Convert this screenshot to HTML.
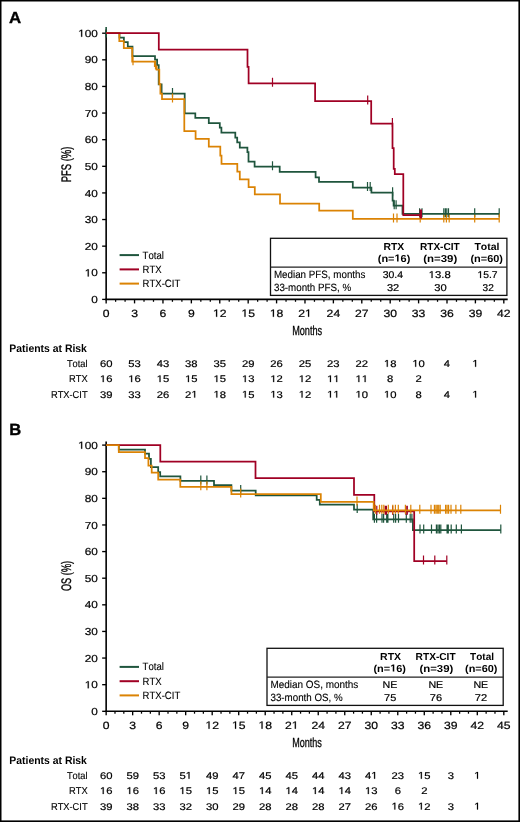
<!DOCTYPE html>
<html><head><meta charset="utf-8"><style>
html,body{margin:0;padding:0;background:#fff;}
body{width:520px;height:822px;overflow:hidden;}
svg{display:block;font-family:"Liberation Sans", sans-serif;font-kerning:none;text-rendering:geometricPrecision;will-change:transform;}
</style></head><body>
<svg width="520" height="822" viewBox="0 0 520 822">
<rect width="520" height="822" fill="#fff"/>
<rect x="0" y="0" width="520" height="1.5" fill="#000"/>
<rect x="0" y="0" width="1.5" height="822" fill="#000"/>
<rect x="518.4" y="0" width="1.6" height="822" fill="#000"/>
<rect x="0" y="820.4" width="520" height="1.6" fill="#000"/>
<text transform="translate(9.08 22.8) scale(1.0535 1)" font-size="15.99" font-weight="bold" stroke="#000" stroke-width="0.35">A</text>
<text transform="translate(9.29 434.9) scale(1.0173 1)" font-size="16.28" font-weight="bold" stroke="#000" stroke-width="0.35">B</text>
<line x1="106.15" y1="29.6" x2="106.15" y2="300.2" stroke="#000" stroke-width="1.6"/>
<line x1="105.35" y1="299.4" x2="507.71" y2="299.4" stroke="#000" stroke-width="1.6"/>
<line x1="102.15" y1="299.4" x2="106.15" y2="299.4" stroke="#000" stroke-width="1.35"/>
<text transform="translate(91.32 303) scale(1.1600 1)" font-size="10.2" stroke="#000" stroke-width="0.2">0</text>
<line x1="102.15" y1="272.78" x2="106.15" y2="272.78" stroke="#000" stroke-width="1.35"/>
<text transform="translate(84.74 276.38) scale(1.1600 1)" font-size="10.2" stroke="#000" stroke-width="0.2"> 0</text>
<path transform="translate(84.74 276.38) scale(0.00578 -0.00498)" d="M515 0V1237L197 1010V1180L530 1409H696V0Z" stroke="#000" stroke-width="40.2"/>
<line x1="102.15" y1="246.16" x2="106.15" y2="246.16" stroke="#000" stroke-width="1.35"/>
<text transform="translate(84.74 249.76) scale(1.1600 1)" font-size="10.2" stroke="#000" stroke-width="0.2">20</text>
<line x1="102.15" y1="219.54" x2="106.15" y2="219.54" stroke="#000" stroke-width="1.35"/>
<text transform="translate(84.74 223.14) scale(1.1600 1)" font-size="10.2" stroke="#000" stroke-width="0.2">30</text>
<line x1="102.15" y1="192.92" x2="106.15" y2="192.92" stroke="#000" stroke-width="1.35"/>
<text transform="translate(84.74 196.52) scale(1.1600 1)" font-size="10.2" stroke="#000" stroke-width="0.2">40</text>
<line x1="102.15" y1="166.3" x2="106.15" y2="166.3" stroke="#000" stroke-width="1.35"/>
<text transform="translate(84.74 169.9) scale(1.1600 1)" font-size="10.2" stroke="#000" stroke-width="0.2">50</text>
<line x1="102.15" y1="139.68" x2="106.15" y2="139.68" stroke="#000" stroke-width="1.35"/>
<text transform="translate(84.74 143.28) scale(1.1600 1)" font-size="10.2" stroke="#000" stroke-width="0.2">60</text>
<line x1="102.15" y1="113.06" x2="106.15" y2="113.06" stroke="#000" stroke-width="1.35"/>
<text transform="translate(84.74 116.66) scale(1.1600 1)" font-size="10.2" stroke="#000" stroke-width="0.2">70</text>
<line x1="102.15" y1="86.44" x2="106.15" y2="86.44" stroke="#000" stroke-width="1.35"/>
<text transform="translate(84.74 90.04) scale(1.1600 1)" font-size="10.2" stroke="#000" stroke-width="0.2">80</text>
<line x1="102.15" y1="59.82" x2="106.15" y2="59.82" stroke="#000" stroke-width="1.35"/>
<text transform="translate(84.74 63.42) scale(1.1600 1)" font-size="10.2" stroke="#000" stroke-width="0.2">90</text>
<line x1="102.15" y1="33.2" x2="106.15" y2="33.2" stroke="#000" stroke-width="1.35"/>
<text transform="translate(78.16 36.8) scale(1.1600 1)" font-size="10.2" stroke="#000" stroke-width="0.2"> 00</text>
<path transform="translate(78.16 36.8) scale(0.00578 -0.00498)" d="M515 0V1237L197 1010V1180L530 1409H696V0Z" stroke="#000" stroke-width="40.2"/>
<line x1="106.15" y1="299.4" x2="106.15" y2="303.4" stroke="#000" stroke-width="1.35"/>
<text transform="translate(102.76 316.8) scale(1.1600 1)" font-size="10.5" stroke="#000" stroke-width="0.2">0</text>
<line x1="115.62" y1="299.4" x2="115.62" y2="301.8" stroke="#000" stroke-width="1.25"/>
<line x1="125.09" y1="299.4" x2="125.09" y2="301.8" stroke="#000" stroke-width="1.25"/>
<line x1="134.55" y1="299.4" x2="134.55" y2="303.4" stroke="#000" stroke-width="1.35"/>
<text transform="translate(131.17 316.8) scale(1.1600 1)" font-size="10.5" stroke="#000" stroke-width="0.2">3</text>
<line x1="144.02" y1="299.4" x2="144.02" y2="301.8" stroke="#000" stroke-width="1.25"/>
<line x1="153.49" y1="299.4" x2="153.49" y2="301.8" stroke="#000" stroke-width="1.25"/>
<line x1="162.96" y1="299.4" x2="162.96" y2="303.4" stroke="#000" stroke-width="1.35"/>
<text transform="translate(159.57 316.8) scale(1.1600 1)" font-size="10.5" stroke="#000" stroke-width="0.2">6</text>
<line x1="172.43" y1="299.4" x2="172.43" y2="301.8" stroke="#000" stroke-width="1.25"/>
<line x1="181.89" y1="299.4" x2="181.89" y2="301.8" stroke="#000" stroke-width="1.25"/>
<line x1="191.36" y1="299.4" x2="191.36" y2="303.4" stroke="#000" stroke-width="1.35"/>
<text transform="translate(187.98 316.8) scale(1.1600 1)" font-size="10.5" stroke="#000" stroke-width="0.2">9</text>
<line x1="200.83" y1="299.4" x2="200.83" y2="301.8" stroke="#000" stroke-width="1.25"/>
<line x1="210.3" y1="299.4" x2="210.3" y2="301.8" stroke="#000" stroke-width="1.25"/>
<line x1="219.77" y1="299.4" x2="219.77" y2="303.4" stroke="#000" stroke-width="1.35"/>
<text transform="translate(212.99 316.8) scale(1.1600 1)" font-size="10.5" stroke="#000" stroke-width="0.2"> 2</text>
<path transform="translate(212.99 316.8) scale(0.00595 -0.00513)" d="M515 0V1237L197 1010V1180L530 1409H696V0Z" stroke="#000" stroke-width="39.0"/>
<line x1="229.23" y1="299.4" x2="229.23" y2="301.8" stroke="#000" stroke-width="1.25"/>
<line x1="238.7" y1="299.4" x2="238.7" y2="301.8" stroke="#000" stroke-width="1.25"/>
<line x1="248.17" y1="299.4" x2="248.17" y2="303.4" stroke="#000" stroke-width="1.35"/>
<text transform="translate(241.4 316.8) scale(1.1600 1)" font-size="10.5" stroke="#000" stroke-width="0.2"> 5</text>
<path transform="translate(241.4 316.8) scale(0.00595 -0.00513)" d="M515 0V1237L197 1010V1180L530 1409H696V0Z" stroke="#000" stroke-width="39.0"/>
<line x1="257.64" y1="299.4" x2="257.64" y2="301.8" stroke="#000" stroke-width="1.25"/>
<line x1="267.11" y1="299.4" x2="267.11" y2="301.8" stroke="#000" stroke-width="1.25"/>
<line x1="276.57" y1="299.4" x2="276.57" y2="303.4" stroke="#000" stroke-width="1.35"/>
<text transform="translate(269.8 316.8) scale(1.1600 1)" font-size="10.5" stroke="#000" stroke-width="0.2"> 8</text>
<path transform="translate(269.8 316.8) scale(0.00595 -0.00513)" d="M515 0V1237L197 1010V1180L530 1409H696V0Z" stroke="#000" stroke-width="39.0"/>
<line x1="286.04" y1="299.4" x2="286.04" y2="301.8" stroke="#000" stroke-width="1.25"/>
<line x1="295.51" y1="299.4" x2="295.51" y2="301.8" stroke="#000" stroke-width="1.25"/>
<line x1="304.98" y1="299.4" x2="304.98" y2="303.4" stroke="#000" stroke-width="1.35"/>
<text transform="translate(298.2 316.8) scale(1.1600 1)" font-size="10.5" stroke="#000" stroke-width="0.2">2 </text>
<path transform="translate(304.98 316.8) scale(0.00595 -0.00513)" d="M515 0V1237L197 1010V1180L530 1409H696V0Z" stroke="#000" stroke-width="39.0"/>
<line x1="314.45" y1="299.4" x2="314.45" y2="301.8" stroke="#000" stroke-width="1.25"/>
<line x1="323.91" y1="299.4" x2="323.91" y2="301.8" stroke="#000" stroke-width="1.25"/>
<line x1="333.38" y1="299.4" x2="333.38" y2="303.4" stroke="#000" stroke-width="1.35"/>
<text transform="translate(326.61 316.8) scale(1.1600 1)" font-size="10.5" stroke="#000" stroke-width="0.2">24</text>
<line x1="342.85" y1="299.4" x2="342.85" y2="301.8" stroke="#000" stroke-width="1.25"/>
<line x1="352.32" y1="299.4" x2="352.32" y2="301.8" stroke="#000" stroke-width="1.25"/>
<line x1="361.79" y1="299.4" x2="361.79" y2="303.4" stroke="#000" stroke-width="1.35"/>
<text transform="translate(355.01 316.8) scale(1.1600 1)" font-size="10.5" stroke="#000" stroke-width="0.2">27</text>
<line x1="371.25" y1="299.4" x2="371.25" y2="301.8" stroke="#000" stroke-width="1.25"/>
<line x1="380.72" y1="299.4" x2="380.72" y2="301.8" stroke="#000" stroke-width="1.25"/>
<line x1="390.19" y1="299.4" x2="390.19" y2="303.4" stroke="#000" stroke-width="1.35"/>
<text transform="translate(383.42 316.8) scale(1.1600 1)" font-size="10.5" stroke="#000" stroke-width="0.2">30</text>
<line x1="399.66" y1="299.4" x2="399.66" y2="301.8" stroke="#000" stroke-width="1.25"/>
<line x1="409.13" y1="299.4" x2="409.13" y2="301.8" stroke="#000" stroke-width="1.25"/>
<line x1="418.59" y1="299.4" x2="418.59" y2="303.4" stroke="#000" stroke-width="1.35"/>
<text transform="translate(411.82 316.8) scale(1.1600 1)" font-size="10.5" stroke="#000" stroke-width="0.2">33</text>
<line x1="428.06" y1="299.4" x2="428.06" y2="301.8" stroke="#000" stroke-width="1.25"/>
<line x1="437.53" y1="299.4" x2="437.53" y2="301.8" stroke="#000" stroke-width="1.25"/>
<line x1="447" y1="299.4" x2="447" y2="303.4" stroke="#000" stroke-width="1.35"/>
<text transform="translate(440.22 316.8) scale(1.1600 1)" font-size="10.5" stroke="#000" stroke-width="0.2">36</text>
<line x1="456.47" y1="299.4" x2="456.47" y2="301.8" stroke="#000" stroke-width="1.25"/>
<line x1="465.93" y1="299.4" x2="465.93" y2="301.8" stroke="#000" stroke-width="1.25"/>
<line x1="475.4" y1="299.4" x2="475.4" y2="303.4" stroke="#000" stroke-width="1.35"/>
<text transform="translate(468.63 316.8) scale(1.1600 1)" font-size="10.5" stroke="#000" stroke-width="0.2">39</text>
<line x1="484.87" y1="299.4" x2="484.87" y2="301.8" stroke="#000" stroke-width="1.25"/>
<line x1="494.34" y1="299.4" x2="494.34" y2="301.8" stroke="#000" stroke-width="1.25"/>
<line x1="503.81" y1="299.4" x2="503.81" y2="303.4" stroke="#000" stroke-width="1.35"/>
<text transform="translate(497.03 316.8) scale(1.1600 1)" font-size="10.5" stroke="#000" stroke-width="0.2">42</text>
<text transform="translate(70.9 182.17) rotate(-90) scale(0.6796 1)" font-size="13.81" stroke="#000" stroke-width="0.35">PFS (%)</text>
<text transform="translate(292.15 334.7) scale(0.6912 1)" font-size="13.23" stroke="#000" stroke-width="0.3">Months</text>
<path d="M419.6 208.3V217.3M422 208.3V217.3M443.8 208.3V217.3M445.4 208.3V217.3M446.8 208.3V217.3M448.5 208.3V217.3M474.7 208.3V217.3M499.2 208.3V217.3" stroke="#1f553d" stroke-width="1.2"/>
<path d="M420.2 213.4V222.4M443.8 213.4V222.4M446.4 213.4V222.4M449.2 213.4V222.4M474.7 213.4V222.4M499.2 213.4V222.4" stroke="#db8304" stroke-width="1.2"/>
<path d="M106.15 33.2H119.5V37.7H123.9V42.2H127.8V46.5H132.5V56.1H155V59.5H157.1V65H158.7V84.3H161.6V93.6H184.7V113.3H195.3V117.9H208.8V123H219.8V127.7H221.4V132.7H235.3V137.6H237.2V142.3H239.8V147.5H247.4V152.1H248.5V161.7H254.6V166.7H279.7V171.8H315.6V177.3H319V181.9H352.8V187.5H371.4V192.7H392.6V200.5H393.6V205.7H402.5V213.8H499.2" fill="none" stroke="#1f553d" stroke-width="1.75"/>
<path d="M172.5 88.1V97.1M272.5 161.2V170.2M367.5 182V191M370.2 182V191M392.6 187.2V196.2M394.2 200.2V209.2M396.1 200.2V209.2" stroke="#1f553d" stroke-width="1.2"/>
<line x1="106.15" y1="27" x2="106.15" y2="37.5" stroke="#1f553d" stroke-width="1.6"/>
<path d="M106.15 33.2H119.3V41.1H123.8V48H132.2V61.7H154.8V66H156.6V69.5H159.3V84H160.4V93.5H162V99H184.3V131.2H195.6V138.9H208.8V146.7H220.3V155.6H221.5V163.8H237.3V171.7H239.8V179.4H248.6V187.2H254.8V194.4H280V203.6H319.2V210.7H352.8V218.9H499.2" fill="none" stroke="#db8304" stroke-width="1.75"/>
<path d="M133 56.2V65.2M155.5 60.5V69.5M172.5 93.5V102.5M393.5 213.4V222.4M397 213.4V222.4" stroke="#db8304" stroke-width="1.2"/>
<path d="M106.15 33.2H158.8V49.7H247.5V66.8H248.6V83.3H315.1V101.1H371.2V123.5H392.5V148.2H393.7V168.9H394.8V174H403.3V215H422" fill="none" stroke="#a00024" stroke-width="1.75"/>
<path d="M272.5 77.8V86.8M367.7 95.6V104.6M392.4 118V127M420.2 209.5V218.5M421.4 209.5V218.5" stroke="#a00024" stroke-width="1.2"/>
<line x1="119.6" y1="255.1" x2="139" y2="255.1" stroke="#1f553d" stroke-width="2.0"/>
<line x1="119.6" y1="269.4" x2="139" y2="269.4" stroke="#a00024" stroke-width="2.0"/>
<line x1="119.6" y1="283.6" x2="139" y2="283.6" stroke="#db8304" stroke-width="2.0"/>
<text transform="translate(142.6 258.6) scale(0.9000 1)" font-size="10.6" stroke="#000" stroke-width="0.12">Total</text>
<text transform="translate(142.6 272.9) scale(0.9000 1)" font-size="10.6" stroke="#000" stroke-width="0.12">RTX</text>
<text transform="translate(142.6 287.1) scale(0.9000 1)" font-size="10.6" stroke="#000" stroke-width="0.12">RTX-CIT</text>
<rect x="270.5" y="238.3" width="236.4" height="57.1" fill="none" stroke="#111" stroke-width="1.3"/>
<line x1="270.5" y1="267.1" x2="506.9" y2="267.1" stroke="#222" stroke-width="1.2"/>
<text transform="translate(383.4 249.5) scale(1.0215 1)" font-size="10.17" font-weight="bold">RTX</text>
<text transform="translate(377.75 261.5) scale(1.0774 1)" font-size="10.17" font-weight="bold">(n= 6)</text>
<path transform="translate(394.5 261.5) scale(0.00535 -0.00497)" d="M478 0V1170L140 959V1180L493 1409H759V0Z"/>
<text transform="translate(419.92 249.5) scale(0.9940 1)" font-size="10.17" font-weight="bold">RTX-CIT</text>
<text transform="translate(423.23 261.5) scale(1.1253 1)" font-size="10.17" font-weight="bold">(n=39)</text>
<text transform="translate(474.38 249.5) scale(1.0312 1)" font-size="10.17" font-weight="bold">Total</text>
<text transform="translate(470.45 261.5) scale(1.0774 1)" font-size="10.17" font-weight="bold">(n=60)</text>
<text transform="translate(382.7 278) scale(1.0637 1)" font-size="9.86" stroke="#000" stroke-width="0.2">30.4</text>
<text transform="translate(428.71 278) scale(1.1455 1)" font-size="9.86" stroke="#000" stroke-width="0.2"> 3.8</text>
<path transform="translate(428.71 278) scale(0.00551 -0.00481)" d="M515 0V1237L197 1010V1180L530 1409H696V0Z" stroke="#000" stroke-width="41.6"/>
<text transform="translate(477.51 278) scale(1.0484 1)" font-size="9.86" stroke="#000" stroke-width="0.2"> 5.7</text>
<path transform="translate(477.51 278) scale(0.00505 -0.00481)" d="M515 0V1237L197 1010V1180L530 1409H696V0Z" stroke="#000" stroke-width="41.6"/>
<text transform="translate(386.98 290.9) scale(1.1196 1)" font-size="9.86" stroke="#000" stroke-width="0.2">32</text>
<text transform="translate(434.17 290.9) scale(1.1368 1)" font-size="9.86" stroke="#000" stroke-width="0.2">30</text>
<text transform="translate(482.62 290.9) scale(1.0205 1)" font-size="9.86" stroke="#000" stroke-width="0.2">32</text>
<text transform="translate(273.9 278.1) scale(0.9241 1)" font-size="10.61" stroke="#000" stroke-width="0.12">Median PFS, months</text>
<text transform="translate(274 291.2) scale(0.9300 1)" font-size="10.5" stroke="#000" stroke-width="0.12">33-month PFS, %</text>
<text transform="translate(9.3 351.8) scale(0.9570 1)" font-size="10.9" font-weight="bold">Patients at Risk</text>
<text transform="translate(66.92 366.8) scale(0.9300 1)" font-size="10" stroke="#000" stroke-width="0.12">Total</text>
<text transform="translate(99.89 366.8) scale(1.1600 1)" font-size="9.7" stroke="#000" stroke-width="0.2">60</text>
<text transform="translate(128.3 366.8) scale(1.1600 1)" font-size="9.7" stroke="#000" stroke-width="0.2">53</text>
<text transform="translate(156.7 366.8) scale(1.1600 1)" font-size="9.7" stroke="#000" stroke-width="0.2">43</text>
<text transform="translate(185.1 366.8) scale(1.1600 1)" font-size="9.7" stroke="#000" stroke-width="0.2">38</text>
<text transform="translate(213.51 366.8) scale(1.1600 1)" font-size="9.7" stroke="#000" stroke-width="0.2">35</text>
<text transform="translate(241.91 366.8) scale(1.1600 1)" font-size="9.7" stroke="#000" stroke-width="0.2">29</text>
<text transform="translate(270.32 366.8) scale(1.1600 1)" font-size="9.7" stroke="#000" stroke-width="0.2">26</text>
<text transform="translate(298.72 366.8) scale(1.1600 1)" font-size="9.7" stroke="#000" stroke-width="0.2">25</text>
<text transform="translate(327.12 366.8) scale(1.1600 1)" font-size="9.7" stroke="#000" stroke-width="0.2">23</text>
<text transform="translate(355.53 366.8) scale(1.1600 1)" font-size="9.7" stroke="#000" stroke-width="0.2">22</text>
<text transform="translate(383.93 366.8) scale(1.1600 1)" font-size="9.7" stroke="#000" stroke-width="0.2"> 8</text>
<path transform="translate(383.93 366.8) scale(0.00549 -0.00474)" d="M515 0V1237L197 1010V1180L530 1409H696V0Z" stroke="#000" stroke-width="42.2"/>
<text transform="translate(412.34 366.8) scale(1.1600 1)" font-size="9.7" stroke="#000" stroke-width="0.2"> 0</text>
<path transform="translate(412.34 366.8) scale(0.00549 -0.00474)" d="M515 0V1237L197 1010V1180L530 1409H696V0Z" stroke="#000" stroke-width="42.2"/>
<text transform="translate(443.87 366.8) scale(1.1600 1)" font-size="9.7" stroke="#000" stroke-width="0.2">4</text>
<text transform="translate(472.27 366.8) scale(1.1600 1)" font-size="9.7" stroke="#000" stroke-width="0.2"> </text>
<path transform="translate(472.27 366.8) scale(0.00549 -0.00474)" d="M515 0V1237L197 1010V1180L530 1409H696V0Z" stroke="#000" stroke-width="42.2"/>
<text transform="translate(69 382.1) scale(0.9300 1)" font-size="10" stroke="#000" stroke-width="0.12">RTX</text>
<text transform="translate(99.89 382.1) scale(1.1600 1)" font-size="9.7" stroke="#000" stroke-width="0.2"> 6</text>
<path transform="translate(99.89 382.1) scale(0.00549 -0.00474)" d="M515 0V1237L197 1010V1180L530 1409H696V0Z" stroke="#000" stroke-width="42.2"/>
<text transform="translate(128.3 382.1) scale(1.1600 1)" font-size="9.7" stroke="#000" stroke-width="0.2"> 6</text>
<path transform="translate(128.3 382.1) scale(0.00549 -0.00474)" d="M515 0V1237L197 1010V1180L530 1409H696V0Z" stroke="#000" stroke-width="42.2"/>
<text transform="translate(156.7 382.1) scale(1.1600 1)" font-size="9.7" stroke="#000" stroke-width="0.2"> 5</text>
<path transform="translate(156.7 382.1) scale(0.00549 -0.00474)" d="M515 0V1237L197 1010V1180L530 1409H696V0Z" stroke="#000" stroke-width="42.2"/>
<text transform="translate(185.1 382.1) scale(1.1600 1)" font-size="9.7" stroke="#000" stroke-width="0.2"> 5</text>
<path transform="translate(185.1 382.1) scale(0.00549 -0.00474)" d="M515 0V1237L197 1010V1180L530 1409H696V0Z" stroke="#000" stroke-width="42.2"/>
<text transform="translate(213.51 382.1) scale(1.1600 1)" font-size="9.7" stroke="#000" stroke-width="0.2"> 5</text>
<path transform="translate(213.51 382.1) scale(0.00549 -0.00474)" d="M515 0V1237L197 1010V1180L530 1409H696V0Z" stroke="#000" stroke-width="42.2"/>
<text transform="translate(241.91 382.1) scale(1.1600 1)" font-size="9.7" stroke="#000" stroke-width="0.2"> 3</text>
<path transform="translate(241.91 382.1) scale(0.00549 -0.00474)" d="M515 0V1237L197 1010V1180L530 1409H696V0Z" stroke="#000" stroke-width="42.2"/>
<text transform="translate(270.32 382.1) scale(1.1600 1)" font-size="9.7" stroke="#000" stroke-width="0.2"> 2</text>
<path transform="translate(270.32 382.1) scale(0.00549 -0.00474)" d="M515 0V1237L197 1010V1180L530 1409H696V0Z" stroke="#000" stroke-width="42.2"/>
<text transform="translate(298.72 382.1) scale(1.1600 1)" font-size="9.7" stroke="#000" stroke-width="0.2"> 2</text>
<path transform="translate(298.72 382.1) scale(0.00549 -0.00474)" d="M515 0V1237L197 1010V1180L530 1409H696V0Z" stroke="#000" stroke-width="42.2"/>
<text transform="translate(327.12 382.1) scale(1.1600 1)" font-size="9.7" stroke="#000" stroke-width="0.2">  </text>
<path transform="translate(327.12 382.1) scale(0.00549 -0.00474)" d="M515 0V1237L197 1010V1180L530 1409H696V0Z" stroke="#000" stroke-width="42.2"/>
<path transform="translate(333.38 382.1) scale(0.00549 -0.00474)" d="M515 0V1237L197 1010V1180L530 1409H696V0Z" stroke="#000" stroke-width="42.2"/>
<text transform="translate(355.53 382.1) scale(1.1600 1)" font-size="9.7" stroke="#000" stroke-width="0.2">  </text>
<path transform="translate(355.53 382.1) scale(0.00549 -0.00474)" d="M515 0V1237L197 1010V1180L530 1409H696V0Z" stroke="#000" stroke-width="42.2"/>
<path transform="translate(361.79 382.1) scale(0.00549 -0.00474)" d="M515 0V1237L197 1010V1180L530 1409H696V0Z" stroke="#000" stroke-width="42.2"/>
<text transform="translate(387.06 382.1) scale(1.1600 1)" font-size="9.7" stroke="#000" stroke-width="0.2">8</text>
<text transform="translate(415.47 382.1) scale(1.1600 1)" font-size="9.7" stroke="#000" stroke-width="0.2">2</text>
<text transform="translate(50.92 397.6) scale(0.9300 1)" font-size="10" stroke="#000" stroke-width="0.12">RTX-CIT</text>
<text transform="translate(99.89 397.6) scale(1.1600 1)" font-size="9.7" stroke="#000" stroke-width="0.2">39</text>
<text transform="translate(128.3 397.6) scale(1.1600 1)" font-size="9.7" stroke="#000" stroke-width="0.2">33</text>
<text transform="translate(156.7 397.6) scale(1.1600 1)" font-size="9.7" stroke="#000" stroke-width="0.2">26</text>
<text transform="translate(185.1 397.6) scale(1.1600 1)" font-size="9.7" stroke="#000" stroke-width="0.2">2 </text>
<path transform="translate(191.36 397.6) scale(0.00549 -0.00474)" d="M515 0V1237L197 1010V1180L530 1409H696V0Z" stroke="#000" stroke-width="42.2"/>
<text transform="translate(213.51 397.6) scale(1.1600 1)" font-size="9.7" stroke="#000" stroke-width="0.2"> 8</text>
<path transform="translate(213.51 397.6) scale(0.00549 -0.00474)" d="M515 0V1237L197 1010V1180L530 1409H696V0Z" stroke="#000" stroke-width="42.2"/>
<text transform="translate(241.91 397.6) scale(1.1600 1)" font-size="9.7" stroke="#000" stroke-width="0.2"> 5</text>
<path transform="translate(241.91 397.6) scale(0.00549 -0.00474)" d="M515 0V1237L197 1010V1180L530 1409H696V0Z" stroke="#000" stroke-width="42.2"/>
<text transform="translate(270.32 397.6) scale(1.1600 1)" font-size="9.7" stroke="#000" stroke-width="0.2"> 3</text>
<path transform="translate(270.32 397.6) scale(0.00549 -0.00474)" d="M515 0V1237L197 1010V1180L530 1409H696V0Z" stroke="#000" stroke-width="42.2"/>
<text transform="translate(298.72 397.6) scale(1.1600 1)" font-size="9.7" stroke="#000" stroke-width="0.2"> 2</text>
<path transform="translate(298.72 397.6) scale(0.00549 -0.00474)" d="M515 0V1237L197 1010V1180L530 1409H696V0Z" stroke="#000" stroke-width="42.2"/>
<text transform="translate(327.12 397.6) scale(1.1600 1)" font-size="9.7" stroke="#000" stroke-width="0.2">  </text>
<path transform="translate(327.12 397.6) scale(0.00549 -0.00474)" d="M515 0V1237L197 1010V1180L530 1409H696V0Z" stroke="#000" stroke-width="42.2"/>
<path transform="translate(333.38 397.6) scale(0.00549 -0.00474)" d="M515 0V1237L197 1010V1180L530 1409H696V0Z" stroke="#000" stroke-width="42.2"/>
<text transform="translate(355.53 397.6) scale(1.1600 1)" font-size="9.7" stroke="#000" stroke-width="0.2"> 0</text>
<path transform="translate(355.53 397.6) scale(0.00549 -0.00474)" d="M515 0V1237L197 1010V1180L530 1409H696V0Z" stroke="#000" stroke-width="42.2"/>
<text transform="translate(383.93 397.6) scale(1.1600 1)" font-size="9.7" stroke="#000" stroke-width="0.2"> 0</text>
<path transform="translate(383.93 397.6) scale(0.00549 -0.00474)" d="M515 0V1237L197 1010V1180L530 1409H696V0Z" stroke="#000" stroke-width="42.2"/>
<text transform="translate(415.47 397.6) scale(1.1600 1)" font-size="9.7" stroke="#000" stroke-width="0.2">8</text>
<text transform="translate(443.87 397.6) scale(1.1600 1)" font-size="9.7" stroke="#000" stroke-width="0.2">4</text>
<text transform="translate(472.27 397.6) scale(1.1600 1)" font-size="9.7" stroke="#000" stroke-width="0.2"> </text>
<path transform="translate(472.27 397.6) scale(0.00549 -0.00474)" d="M515 0V1237L197 1010V1180L530 1409H696V0Z" stroke="#000" stroke-width="42.2"/>
<line x1="106.15" y1="441.5" x2="106.15" y2="712.1" stroke="#000" stroke-width="1.6"/>
<line x1="105.35" y1="711.3" x2="507.71" y2="711.3" stroke="#000" stroke-width="1.6"/>
<line x1="102.15" y1="711.3" x2="106.15" y2="711.3" stroke="#000" stroke-width="1.35"/>
<text transform="translate(91.32 714.9) scale(1.1600 1)" font-size="10.2" stroke="#000" stroke-width="0.2">0</text>
<line x1="102.15" y1="684.68" x2="106.15" y2="684.68" stroke="#000" stroke-width="1.35"/>
<text transform="translate(84.74 688.28) scale(1.1600 1)" font-size="10.2" stroke="#000" stroke-width="0.2"> 0</text>
<path transform="translate(84.74 688.28) scale(0.00578 -0.00498)" d="M515 0V1237L197 1010V1180L530 1409H696V0Z" stroke="#000" stroke-width="40.2"/>
<line x1="102.15" y1="658.06" x2="106.15" y2="658.06" stroke="#000" stroke-width="1.35"/>
<text transform="translate(84.74 661.66) scale(1.1600 1)" font-size="10.2" stroke="#000" stroke-width="0.2">20</text>
<line x1="102.15" y1="631.44" x2="106.15" y2="631.44" stroke="#000" stroke-width="1.35"/>
<text transform="translate(84.74 635.04) scale(1.1600 1)" font-size="10.2" stroke="#000" stroke-width="0.2">30</text>
<line x1="102.15" y1="604.82" x2="106.15" y2="604.82" stroke="#000" stroke-width="1.35"/>
<text transform="translate(84.74 608.42) scale(1.1600 1)" font-size="10.2" stroke="#000" stroke-width="0.2">40</text>
<line x1="102.15" y1="578.2" x2="106.15" y2="578.2" stroke="#000" stroke-width="1.35"/>
<text transform="translate(84.74 581.8) scale(1.1600 1)" font-size="10.2" stroke="#000" stroke-width="0.2">50</text>
<line x1="102.15" y1="551.58" x2="106.15" y2="551.58" stroke="#000" stroke-width="1.35"/>
<text transform="translate(84.74 555.18) scale(1.1600 1)" font-size="10.2" stroke="#000" stroke-width="0.2">60</text>
<line x1="102.15" y1="524.96" x2="106.15" y2="524.96" stroke="#000" stroke-width="1.35"/>
<text transform="translate(84.74 528.56) scale(1.1600 1)" font-size="10.2" stroke="#000" stroke-width="0.2">70</text>
<line x1="102.15" y1="498.34" x2="106.15" y2="498.34" stroke="#000" stroke-width="1.35"/>
<text transform="translate(84.74 501.94) scale(1.1600 1)" font-size="10.2" stroke="#000" stroke-width="0.2">80</text>
<line x1="102.15" y1="471.72" x2="106.15" y2="471.72" stroke="#000" stroke-width="1.35"/>
<text transform="translate(84.74 475.32) scale(1.1600 1)" font-size="10.2" stroke="#000" stroke-width="0.2">90</text>
<line x1="102.15" y1="445.1" x2="106.15" y2="445.1" stroke="#000" stroke-width="1.35"/>
<text transform="translate(78.16 448.7) scale(1.1600 1)" font-size="10.2" stroke="#000" stroke-width="0.2"> 00</text>
<path transform="translate(78.16 448.7) scale(0.00578 -0.00498)" d="M515 0V1237L197 1010V1180L530 1409H696V0Z" stroke="#000" stroke-width="40.2"/>
<line x1="106.15" y1="711.3" x2="106.15" y2="715.3" stroke="#000" stroke-width="1.35"/>
<text transform="translate(102.76 728.7) scale(1.1600 1)" font-size="10.5" stroke="#000" stroke-width="0.2">0</text>
<line x1="114.99" y1="711.3" x2="114.99" y2="713.7" stroke="#000" stroke-width="1.25"/>
<line x1="123.82" y1="711.3" x2="123.82" y2="713.7" stroke="#000" stroke-width="1.25"/>
<line x1="132.66" y1="711.3" x2="132.66" y2="715.3" stroke="#000" stroke-width="1.35"/>
<text transform="translate(129.27 728.7) scale(1.1600 1)" font-size="10.5" stroke="#000" stroke-width="0.2">3</text>
<line x1="141.5" y1="711.3" x2="141.5" y2="713.7" stroke="#000" stroke-width="1.25"/>
<line x1="150.34" y1="711.3" x2="150.34" y2="713.7" stroke="#000" stroke-width="1.25"/>
<line x1="159.17" y1="711.3" x2="159.17" y2="715.3" stroke="#000" stroke-width="1.35"/>
<text transform="translate(155.79 728.7) scale(1.1600 1)" font-size="10.5" stroke="#000" stroke-width="0.2">6</text>
<line x1="168.01" y1="711.3" x2="168.01" y2="713.7" stroke="#000" stroke-width="1.25"/>
<line x1="176.85" y1="711.3" x2="176.85" y2="713.7" stroke="#000" stroke-width="1.25"/>
<line x1="185.68" y1="711.3" x2="185.68" y2="715.3" stroke="#000" stroke-width="1.35"/>
<text transform="translate(182.3 728.7) scale(1.1600 1)" font-size="10.5" stroke="#000" stroke-width="0.2">9</text>
<line x1="194.52" y1="711.3" x2="194.52" y2="713.7" stroke="#000" stroke-width="1.25"/>
<line x1="203.36" y1="711.3" x2="203.36" y2="713.7" stroke="#000" stroke-width="1.25"/>
<line x1="212.19" y1="711.3" x2="212.19" y2="715.3" stroke="#000" stroke-width="1.35"/>
<text transform="translate(205.42 728.7) scale(1.1600 1)" font-size="10.5" stroke="#000" stroke-width="0.2"> 2</text>
<path transform="translate(205.42 728.7) scale(0.00595 -0.00513)" d="M515 0V1237L197 1010V1180L530 1409H696V0Z" stroke="#000" stroke-width="39.0"/>
<line x1="221.03" y1="711.3" x2="221.03" y2="713.7" stroke="#000" stroke-width="1.25"/>
<line x1="229.87" y1="711.3" x2="229.87" y2="713.7" stroke="#000" stroke-width="1.25"/>
<line x1="238.71" y1="711.3" x2="238.71" y2="715.3" stroke="#000" stroke-width="1.35"/>
<text transform="translate(231.93 728.7) scale(1.1600 1)" font-size="10.5" stroke="#000" stroke-width="0.2"> 5</text>
<path transform="translate(231.93 728.7) scale(0.00595 -0.00513)" d="M515 0V1237L197 1010V1180L530 1409H696V0Z" stroke="#000" stroke-width="39.0"/>
<line x1="247.54" y1="711.3" x2="247.54" y2="713.7" stroke="#000" stroke-width="1.25"/>
<line x1="256.38" y1="711.3" x2="256.38" y2="713.7" stroke="#000" stroke-width="1.25"/>
<line x1="265.22" y1="711.3" x2="265.22" y2="715.3" stroke="#000" stroke-width="1.35"/>
<text transform="translate(258.44 728.7) scale(1.1600 1)" font-size="10.5" stroke="#000" stroke-width="0.2"> 8</text>
<path transform="translate(258.44 728.7) scale(0.00595 -0.00513)" d="M515 0V1237L197 1010V1180L530 1409H696V0Z" stroke="#000" stroke-width="39.0"/>
<line x1="274.05" y1="711.3" x2="274.05" y2="713.7" stroke="#000" stroke-width="1.25"/>
<line x1="282.89" y1="711.3" x2="282.89" y2="713.7" stroke="#000" stroke-width="1.25"/>
<line x1="291.73" y1="711.3" x2="291.73" y2="715.3" stroke="#000" stroke-width="1.35"/>
<text transform="translate(284.95 728.7) scale(1.1600 1)" font-size="10.5" stroke="#000" stroke-width="0.2">2 </text>
<path transform="translate(291.73 728.7) scale(0.00595 -0.00513)" d="M515 0V1237L197 1010V1180L530 1409H696V0Z" stroke="#000" stroke-width="39.0"/>
<line x1="300.56" y1="711.3" x2="300.56" y2="713.7" stroke="#000" stroke-width="1.25"/>
<line x1="309.4" y1="711.3" x2="309.4" y2="713.7" stroke="#000" stroke-width="1.25"/>
<line x1="318.24" y1="711.3" x2="318.24" y2="715.3" stroke="#000" stroke-width="1.35"/>
<text transform="translate(311.46 728.7) scale(1.1600 1)" font-size="10.5" stroke="#000" stroke-width="0.2">24</text>
<line x1="327.07" y1="711.3" x2="327.07" y2="713.7" stroke="#000" stroke-width="1.25"/>
<line x1="335.91" y1="711.3" x2="335.91" y2="713.7" stroke="#000" stroke-width="1.25"/>
<line x1="344.75" y1="711.3" x2="344.75" y2="715.3" stroke="#000" stroke-width="1.35"/>
<text transform="translate(337.98 728.7) scale(1.1600 1)" font-size="10.5" stroke="#000" stroke-width="0.2">27</text>
<line x1="353.59" y1="711.3" x2="353.59" y2="713.7" stroke="#000" stroke-width="1.25"/>
<line x1="362.42" y1="711.3" x2="362.42" y2="713.7" stroke="#000" stroke-width="1.25"/>
<line x1="371.26" y1="711.3" x2="371.26" y2="715.3" stroke="#000" stroke-width="1.35"/>
<text transform="translate(364.49 728.7) scale(1.1600 1)" font-size="10.5" stroke="#000" stroke-width="0.2">30</text>
<line x1="380.1" y1="711.3" x2="380.1" y2="713.7" stroke="#000" stroke-width="1.25"/>
<line x1="388.93" y1="711.3" x2="388.93" y2="713.7" stroke="#000" stroke-width="1.25"/>
<line x1="397.77" y1="711.3" x2="397.77" y2="715.3" stroke="#000" stroke-width="1.35"/>
<text transform="translate(391 728.7) scale(1.1600 1)" font-size="10.5" stroke="#000" stroke-width="0.2">33</text>
<line x1="406.61" y1="711.3" x2="406.61" y2="713.7" stroke="#000" stroke-width="1.25"/>
<line x1="415.45" y1="711.3" x2="415.45" y2="713.7" stroke="#000" stroke-width="1.25"/>
<line x1="424.28" y1="711.3" x2="424.28" y2="715.3" stroke="#000" stroke-width="1.35"/>
<text transform="translate(417.51 728.7) scale(1.1600 1)" font-size="10.5" stroke="#000" stroke-width="0.2">36</text>
<line x1="433.12" y1="711.3" x2="433.12" y2="713.7" stroke="#000" stroke-width="1.25"/>
<line x1="441.96" y1="711.3" x2="441.96" y2="713.7" stroke="#000" stroke-width="1.25"/>
<line x1="450.79" y1="711.3" x2="450.79" y2="715.3" stroke="#000" stroke-width="1.35"/>
<text transform="translate(444.02 728.7) scale(1.1600 1)" font-size="10.5" stroke="#000" stroke-width="0.2">39</text>
<line x1="459.63" y1="711.3" x2="459.63" y2="713.7" stroke="#000" stroke-width="1.25"/>
<line x1="468.47" y1="711.3" x2="468.47" y2="713.7" stroke="#000" stroke-width="1.25"/>
<line x1="477.3" y1="711.3" x2="477.3" y2="715.3" stroke="#000" stroke-width="1.35"/>
<text transform="translate(470.53 728.7) scale(1.1600 1)" font-size="10.5" stroke="#000" stroke-width="0.2">42</text>
<line x1="486.14" y1="711.3" x2="486.14" y2="713.7" stroke="#000" stroke-width="1.25"/>
<line x1="494.98" y1="711.3" x2="494.98" y2="713.7" stroke="#000" stroke-width="1.25"/>
<line x1="503.81" y1="711.3" x2="503.81" y2="715.3" stroke="#000" stroke-width="1.35"/>
<text transform="translate(497.04 728.7) scale(1.1600 1)" font-size="10.5" stroke="#000" stroke-width="0.2">45</text>
<text transform="translate(70.8 591.04) rotate(-90) scale(0.6674 1)" font-size="13.81" stroke="#000" stroke-width="0.35">OS (%)</text>
<text transform="translate(292.16 746.6) scale(0.6840 1)" font-size="13.23" stroke="#000" stroke-width="0.3">Months</text>
<path d="M106.15 445.1H118.8V449.5H145V453.6H149V458.8H150.9V467.2H158.2V472.2H160.2V476.4H180.4V480.9H214V485.1H231.4V490.6H255.7V495.3H316.7V499.8H319.8V504.5H354V509.6H373.2V519.3H412.9V530H500.8" fill="none" stroke="#1f553d" stroke-width="1.75"/>
<path d="M200.8 475.4V484.4M206.9 475.4V484.4M240.7 485.1V494.1M357.2 504.1V513.1M374.4 513.8V522.8M376.6 513.8V522.8M382 513.8V522.8M383.6 513.8V522.8M386.7 513.8V522.8M387.9 513.8V522.8M393.7 513.8V522.8M395.6 513.8V522.8M398.5 513.8V522.8M406.3 513.8V522.8M410.2 513.8V522.8M411.9 513.8V522.8M420 524.5V533.5M423.7 524.5V533.5M431.5 524.5V533.5M436.4 524.5V533.5M437.9 524.5V533.5M439.4 524.5V533.5M440.8 524.5V533.5M447.1 524.5V533.5M448.3 524.5V533.5M451.2 524.5V533.5M456.3 524.5V533.5M461.4 524.5V533.5M500.8 524.5V533.5" stroke="#1f553d" stroke-width="1.2"/>
<path d="M106.15 445.1H160.3V461.6H255.5V478.2H354V494.8H374.3V511.3H414.2V561H446.8" fill="none" stroke="#a00024" stroke-width="1.75"/>
<path d="M376.8 505.8V514.8M385.2 505.8V514.8M386.4 505.8V514.8M392.6 505.8V514.8M405.9 505.8V514.8M407.3 505.8V514.8M423.5 555.5V564.5M434.8 555.5V564.5M446.8 555.5V564.5" stroke="#a00024" stroke-width="1.2"/>
<path d="M106.15 445.1H118.8V452.1H145V458.2H148.4V465.6H151.7V472.5H158.2V479.7H180.3V486.8H231.4V494.1H320.8V501.9H373.7V510.3H500.5" fill="none" stroke="#db8304" stroke-width="1.75"/>
<path d="M200.8 481.3V490.3M206.9 481.3V490.3M240.7 488.6V497.6M357 496.4V505.4M375.4 504.8V513.8M379.5 504.8V513.8M381.8 504.8V513.8M383.8 504.8V513.8M388.3 504.8V513.8M392.8 504.8V513.8M395.4 504.8V513.8M398.3 504.8V513.8M405.4 504.8V513.8M410.8 504.8V513.8M419.8 504.8V513.8M431 504.8V513.8M434.4 504.8V513.8M435.9 504.8V513.8M437.3 504.8V513.8M438.7 504.8V513.8M440.2 504.8V513.8M445.6 504.8V513.8M447.1 504.8V513.8M448.6 504.8V513.8M451 504.8V513.8M455.9 504.8V513.8M460.8 504.8V513.8M500.5 504.8V513.8" stroke="#db8304" stroke-width="1.2"/>
<line x1="119.6" y1="666.9" x2="139" y2="666.9" stroke="#1f553d" stroke-width="2.0"/>
<line x1="119.6" y1="681.2" x2="139" y2="681.2" stroke="#a00024" stroke-width="2.0"/>
<line x1="119.6" y1="695.4" x2="139" y2="695.4" stroke="#db8304" stroke-width="2.0"/>
<text transform="translate(142.6 670.4) scale(0.9000 1)" font-size="10.6" stroke="#000" stroke-width="0.12">Total</text>
<text transform="translate(142.6 684.7) scale(0.9000 1)" font-size="10.6" stroke="#000" stroke-width="0.12">RTX</text>
<text transform="translate(142.6 698.9) scale(0.9000 1)" font-size="10.6" stroke="#000" stroke-width="0.12">RTX-CIT</text>
<rect x="267" y="648.3" width="236.2" height="57.1" fill="none" stroke="#111" stroke-width="1.3"/>
<line x1="267" y1="677.1" x2="503.2" y2="677.1" stroke="#222" stroke-width="1.2"/>
<text transform="translate(380.1 659.5) scale(1.0317 1)" font-size="10.17" font-weight="bold">RTX</text>
<text transform="translate(373.45 671.5) scale(1.0774 1)" font-size="10.17" font-weight="bold">(n= 6)</text>
<path transform="translate(390.2 671.5) scale(0.00535 -0.00497)" d="M478 0V1170L140 959V1180L493 1409H759V0Z"/>
<text transform="translate(415.62 659.5) scale(0.9991 1)" font-size="10.17" font-weight="bold">RTX-CIT</text>
<text transform="translate(419.43 671.5) scale(1.1219 1)" font-size="10.17" font-weight="bold">(n=39)</text>
<text transform="translate(470.09 659.5) scale(0.9843 1)" font-size="10.17" font-weight="bold">Total</text>
<text transform="translate(465.06 671.5) scale(1.0740 1)" font-size="10.17" font-weight="bold">(n=60)</text>
<text transform="translate(382.62 688) scale(1.0834 1)" font-size="9.86" stroke="#000" stroke-width="0.2">NE</text>
<text transform="translate(428.42 688) scale(1.0834 1)" font-size="9.86" stroke="#000" stroke-width="0.2">NE</text>
<text transform="translate(473.42 688) scale(1.0834 1)" font-size="9.86" stroke="#000" stroke-width="0.2">NE</text>
<text transform="translate(384.04 700.9) scale(1.1150 1)" font-size="9.86" stroke="#000" stroke-width="0.2">75</text>
<text transform="translate(429.84 700.9) scale(1.1171 1)" font-size="9.86" stroke="#000" stroke-width="0.2">76</text>
<text transform="translate(474.83 700.9) scale(1.1242 1)" font-size="9.86" stroke="#000" stroke-width="0.2">72</text>
<text transform="translate(270.38 688.1) scale(0.9382 1)" font-size="10.61" stroke="#000" stroke-width="0.12">Median OS, months</text>
<text transform="translate(270.5 701.2) scale(0.9300 1)" font-size="10.5" stroke="#000" stroke-width="0.12">33-month OS, %</text>
<text transform="translate(9.3 763.7) scale(0.9570 1)" font-size="10.9" font-weight="bold">Patients at Risk</text>
<text transform="translate(66.92 778.7) scale(0.9300 1)" font-size="10" stroke="#000" stroke-width="0.12">Total</text>
<text transform="translate(99.89 778.7) scale(1.1600 1)" font-size="9.7" stroke="#000" stroke-width="0.2">60</text>
<text transform="translate(126.4 778.7) scale(1.1600 1)" font-size="9.7" stroke="#000" stroke-width="0.2">59</text>
<text transform="translate(152.91 778.7) scale(1.1600 1)" font-size="9.7" stroke="#000" stroke-width="0.2">53</text>
<text transform="translate(179.43 778.7) scale(1.1600 1)" font-size="9.7" stroke="#000" stroke-width="0.2">5 </text>
<path transform="translate(185.68 778.7) scale(0.00549 -0.00474)" d="M515 0V1237L197 1010V1180L530 1409H696V0Z" stroke="#000" stroke-width="42.2"/>
<text transform="translate(205.94 778.7) scale(1.1600 1)" font-size="9.7" stroke="#000" stroke-width="0.2">49</text>
<text transform="translate(232.45 778.7) scale(1.1600 1)" font-size="9.7" stroke="#000" stroke-width="0.2">47</text>
<text transform="translate(258.96 778.7) scale(1.1600 1)" font-size="9.7" stroke="#000" stroke-width="0.2">45</text>
<text transform="translate(285.47 778.7) scale(1.1600 1)" font-size="9.7" stroke="#000" stroke-width="0.2">45</text>
<text transform="translate(311.98 778.7) scale(1.1600 1)" font-size="9.7" stroke="#000" stroke-width="0.2">44</text>
<text transform="translate(338.49 778.7) scale(1.1600 1)" font-size="9.7" stroke="#000" stroke-width="0.2">43</text>
<text transform="translate(365 778.7) scale(1.1600 1)" font-size="9.7" stroke="#000" stroke-width="0.2">4 </text>
<path transform="translate(371.26 778.7) scale(0.00549 -0.00474)" d="M515 0V1237L197 1010V1180L530 1409H696V0Z" stroke="#000" stroke-width="42.2"/>
<text transform="translate(391.51 778.7) scale(1.1600 1)" font-size="9.7" stroke="#000" stroke-width="0.2">23</text>
<text transform="translate(418.02 778.7) scale(1.1600 1)" font-size="9.7" stroke="#000" stroke-width="0.2"> 5</text>
<path transform="translate(418.02 778.7) scale(0.00549 -0.00474)" d="M515 0V1237L197 1010V1180L530 1409H696V0Z" stroke="#000" stroke-width="42.2"/>
<text transform="translate(447.66 778.7) scale(1.1600 1)" font-size="9.7" stroke="#000" stroke-width="0.2">3</text>
<text transform="translate(474.18 778.7) scale(1.1600 1)" font-size="9.7" stroke="#000" stroke-width="0.2"> </text>
<path transform="translate(474.18 778.7) scale(0.00549 -0.00474)" d="M515 0V1237L197 1010V1180L530 1409H696V0Z" stroke="#000" stroke-width="42.2"/>
<text transform="translate(69 794) scale(0.9300 1)" font-size="10" stroke="#000" stroke-width="0.12">RTX</text>
<text transform="translate(99.89 794) scale(1.1600 1)" font-size="9.7" stroke="#000" stroke-width="0.2"> 6</text>
<path transform="translate(99.89 794) scale(0.00549 -0.00474)" d="M515 0V1237L197 1010V1180L530 1409H696V0Z" stroke="#000" stroke-width="42.2"/>
<text transform="translate(126.4 794) scale(1.1600 1)" font-size="9.7" stroke="#000" stroke-width="0.2"> 6</text>
<path transform="translate(126.4 794) scale(0.00549 -0.00474)" d="M515 0V1237L197 1010V1180L530 1409H696V0Z" stroke="#000" stroke-width="42.2"/>
<text transform="translate(152.91 794) scale(1.1600 1)" font-size="9.7" stroke="#000" stroke-width="0.2"> 6</text>
<path transform="translate(152.91 794) scale(0.00549 -0.00474)" d="M515 0V1237L197 1010V1180L530 1409H696V0Z" stroke="#000" stroke-width="42.2"/>
<text transform="translate(179.43 794) scale(1.1600 1)" font-size="9.7" stroke="#000" stroke-width="0.2"> 5</text>
<path transform="translate(179.43 794) scale(0.00549 -0.00474)" d="M515 0V1237L197 1010V1180L530 1409H696V0Z" stroke="#000" stroke-width="42.2"/>
<text transform="translate(205.94 794) scale(1.1600 1)" font-size="9.7" stroke="#000" stroke-width="0.2"> 5</text>
<path transform="translate(205.94 794) scale(0.00549 -0.00474)" d="M515 0V1237L197 1010V1180L530 1409H696V0Z" stroke="#000" stroke-width="42.2"/>
<text transform="translate(232.45 794) scale(1.1600 1)" font-size="9.7" stroke="#000" stroke-width="0.2"> 5</text>
<path transform="translate(232.45 794) scale(0.00549 -0.00474)" d="M515 0V1237L197 1010V1180L530 1409H696V0Z" stroke="#000" stroke-width="42.2"/>
<text transform="translate(258.96 794) scale(1.1600 1)" font-size="9.7" stroke="#000" stroke-width="0.2"> 4</text>
<path transform="translate(258.96 794) scale(0.00549 -0.00474)" d="M515 0V1237L197 1010V1180L530 1409H696V0Z" stroke="#000" stroke-width="42.2"/>
<text transform="translate(285.47 794) scale(1.1600 1)" font-size="9.7" stroke="#000" stroke-width="0.2"> 4</text>
<path transform="translate(285.47 794) scale(0.00549 -0.00474)" d="M515 0V1237L197 1010V1180L530 1409H696V0Z" stroke="#000" stroke-width="42.2"/>
<text transform="translate(311.98 794) scale(1.1600 1)" font-size="9.7" stroke="#000" stroke-width="0.2"> 4</text>
<path transform="translate(311.98 794) scale(0.00549 -0.00474)" d="M515 0V1237L197 1010V1180L530 1409H696V0Z" stroke="#000" stroke-width="42.2"/>
<text transform="translate(338.49 794) scale(1.1600 1)" font-size="9.7" stroke="#000" stroke-width="0.2"> 4</text>
<path transform="translate(338.49 794) scale(0.00549 -0.00474)" d="M515 0V1237L197 1010V1180L530 1409H696V0Z" stroke="#000" stroke-width="42.2"/>
<text transform="translate(365 794) scale(1.1600 1)" font-size="9.7" stroke="#000" stroke-width="0.2"> 3</text>
<path transform="translate(365 794) scale(0.00549 -0.00474)" d="M515 0V1237L197 1010V1180L530 1409H696V0Z" stroke="#000" stroke-width="42.2"/>
<text transform="translate(394.64 794) scale(1.1600 1)" font-size="9.7" stroke="#000" stroke-width="0.2">6</text>
<text transform="translate(421.15 794) scale(1.1600 1)" font-size="9.7" stroke="#000" stroke-width="0.2">2</text>
<text transform="translate(50.92 809.5) scale(0.9300 1)" font-size="10" stroke="#000" stroke-width="0.12">RTX-CIT</text>
<text transform="translate(99.89 809.5) scale(1.1600 1)" font-size="9.7" stroke="#000" stroke-width="0.2">39</text>
<text transform="translate(126.4 809.5) scale(1.1600 1)" font-size="9.7" stroke="#000" stroke-width="0.2">38</text>
<text transform="translate(152.91 809.5) scale(1.1600 1)" font-size="9.7" stroke="#000" stroke-width="0.2">33</text>
<text transform="translate(179.43 809.5) scale(1.1600 1)" font-size="9.7" stroke="#000" stroke-width="0.2">32</text>
<text transform="translate(205.94 809.5) scale(1.1600 1)" font-size="9.7" stroke="#000" stroke-width="0.2">30</text>
<text transform="translate(232.45 809.5) scale(1.1600 1)" font-size="9.7" stroke="#000" stroke-width="0.2">29</text>
<text transform="translate(258.96 809.5) scale(1.1600 1)" font-size="9.7" stroke="#000" stroke-width="0.2">28</text>
<text transform="translate(285.47 809.5) scale(1.1600 1)" font-size="9.7" stroke="#000" stroke-width="0.2">28</text>
<text transform="translate(311.98 809.5) scale(1.1600 1)" font-size="9.7" stroke="#000" stroke-width="0.2">28</text>
<text transform="translate(338.49 809.5) scale(1.1600 1)" font-size="9.7" stroke="#000" stroke-width="0.2">27</text>
<text transform="translate(365 809.5) scale(1.1600 1)" font-size="9.7" stroke="#000" stroke-width="0.2">26</text>
<text transform="translate(391.51 809.5) scale(1.1600 1)" font-size="9.7" stroke="#000" stroke-width="0.2"> 6</text>
<path transform="translate(391.51 809.5) scale(0.00549 -0.00474)" d="M515 0V1237L197 1010V1180L530 1409H696V0Z" stroke="#000" stroke-width="42.2"/>
<text transform="translate(418.02 809.5) scale(1.1600 1)" font-size="9.7" stroke="#000" stroke-width="0.2"> 2</text>
<path transform="translate(418.02 809.5) scale(0.00549 -0.00474)" d="M515 0V1237L197 1010V1180L530 1409H696V0Z" stroke="#000" stroke-width="42.2"/>
<text transform="translate(447.66 809.5) scale(1.1600 1)" font-size="9.7" stroke="#000" stroke-width="0.2">3</text>
<text transform="translate(474.18 809.5) scale(1.1600 1)" font-size="9.7" stroke="#000" stroke-width="0.2"> </text>
<path transform="translate(474.18 809.5) scale(0.00549 -0.00474)" d="M515 0V1237L197 1010V1180L530 1409H696V0Z" stroke="#000" stroke-width="42.2"/>
</svg>
</body></html>
